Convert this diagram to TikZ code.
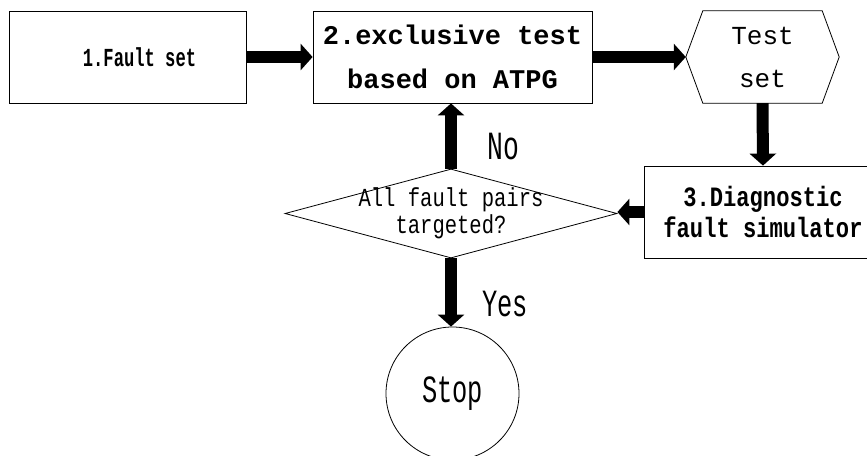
\documentclass[tikz,border=0pt]{standalone}
\usepackage{fontspec}
\usetikzlibrary{arrows.meta,shapes.geometric}
% Monospaced faces at three widths
\newfontfamily\monoN[FakeStretch=0.66]{Liberation Mono}
\newfontfamily\monoM[FakeStretch=0.79]{Liberation Mono}
\newfontfamily\monoW{Liberation Mono}
\begin{document}
\begin{tikzpicture}[x=1pt,y=-1pt,
  frame/.style={draw=black,line width=0.8pt,rectangle,inner sep=0pt,align=center},
  fat/.style={line width=12pt,-{Triangle[width=26pt,length=12pt]}},
  plain/.style={inner sep=0pt,align=center}]
\useasboundingbox (0,0) rectangle (867,455);

% process boxes
\node[frame,minimum width=237pt,minimum height=92pt,
  font={\monoN\bfseries\fontsize{26}{30}\selectfont}] (b1) at (127.5,57)
  {\hspace*{24pt}1.Fault set};
\node[frame,minimum width=279pt,minimum height=92pt,
  font={\monoW\bfseries\fontsize{27}{44}\selectfont}] (b2) at (452.5,57)
  {2.exclusive test\\ based on ATPG};
\node[frame,minimum width=238pt,minimum height=92pt,
  font={\monoM\bfseries\fontsize{28}{31}\selectfont}] (b3) at (763,212)
  {3.Diagnostic\\ fault simulator};

% data node (hexagon)
\node[plain,minimum width=153pt,minimum height=92pt,
  font={\monoW\fontsize{26}{43}\selectfont}] (hex) at (762.5,57)
  {Test\\ set};
\draw[line width=0.8pt] (hex.west) -- ([xshift=17pt]hex.north west)
  -- ([xshift=-17pt]hex.north east) -- (hex.east)
  -- ([xshift=-17pt]hex.south east) -- ([xshift=17pt]hex.south west) -- cycle;

% decision
\node[diamond,draw=black,line width=0.8pt,inner sep=0pt,
  minimum width=332pt,minimum height=89pt] (dia) at (451,213.5) {};
\node[plain,font={\monoM\fontsize{26}{27}\selectfont}] (diatxt) at (dia.center)
  {All fault pairs\\ targeted?};

% terminal
\node[circle,draw=black,line width=0.8pt,inner sep=0pt,minimum size=133pt,
  font={\monoN\fontsize{38.5}{40}\selectfont}] (stop) at (452.5,393.5) {Stop};

% branch labels
\node[plain,font={\monoN\fontsize{40}{42}\selectfont}] (no) at (503,147) {No};
\node[plain,font={\monoN\fontsize{38.5}{40}\selectfont}] (yes) at (505,304) {Yes};

% flow
\draw[fat] (b1.east) -- (b2.west);
\draw[fat] (b2.east) -- (hex.west);
\draw[fat] (hex.south) -- (b3.north);
\draw[fat] (b3.west) -- (b3.west -| dia.east);
\draw[fat] (dia.north) -- (dia.north |- b2.south);
\draw[fat] (dia.south) -- (dia.south |- stop.north);
\end{tikzpicture}
\end{document}
